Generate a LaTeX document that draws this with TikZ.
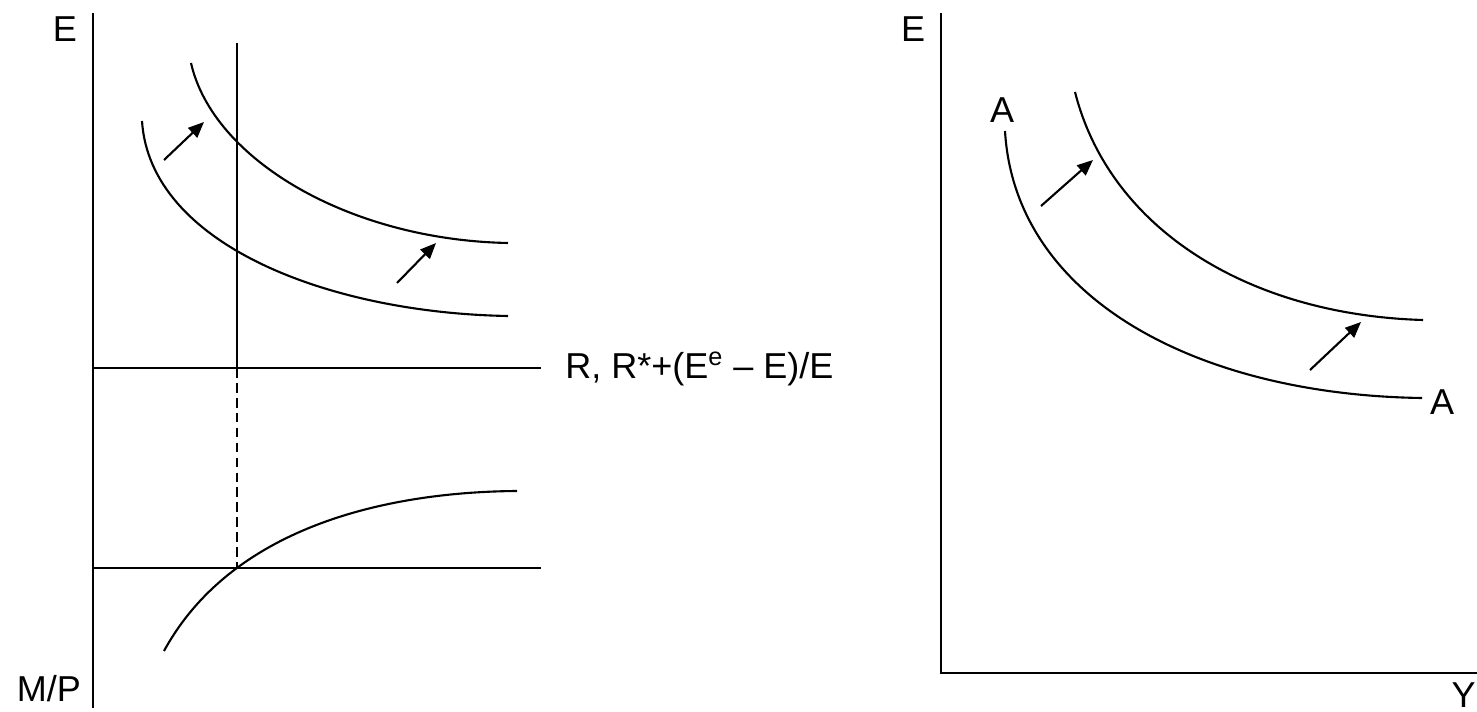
\documentclass[tikz,border=0pt]{standalone}
\usepackage{fontspec}
\setmainfont{Liberation Sans}
\usetikzlibrary{arrows.meta}

\begin{document}
\begin{tikzpicture}[
        x=0.02cm, y=-0.02cm,
        line/.style = {line width=1.2pt},
        shiftarrow/.style = {line width=1.2pt, -{Triangle[length=9pt, width=7.5pt]}},
        lbl/.style = {font=\fontsize{20.5}{24}\selectfont, inner sep=0pt}
    ]
    \useasboundingbox (0,0) rectangle (1477,712);

    % left panel: axis, verticals, horizontals
    \coordinate (lTop) at (93,13);
    \coordinate (lBot) at (93,708);
    \draw[line] (lTop) -- (lBot);
    \node[lbl] (lE) at (65,29) {E};
    \node[lbl] (lMP) at (49,689) {M/P};

    \coordinate (vTop) at (237,43);
    \coordinate (vMid) at (237,368);
    \coordinate (vLow) at (237,568);
    \draw[line] (vTop) -- (vMid);
    \draw[line, dash pattern=on 5.5pt off 3pt] (vMid) -- (vLow);

    \coordinate (hUpL) at (93,368);
    \coordinate (hUpR) at (541,368);
    \coordinate (hLoL) at (93,568);
    \coordinate (hLoR) at (541,568);
    \draw[line] (hUpL) -- (hUpR);
    \draw[line] (hLoL) -- (hLoR);
    \node[lbl, anchor=west] (rate) at (565,369) {R, R*+(E\textsuperscript{e} -- E)/E};

    % left panel: curves
    \draw[line] (191,63) .. controls (213,160) and (350,240) .. (508,243);
    \draw[line] (142,121) .. controls (150,245) and (330,313) .. (508,316);
    \draw[line] (164,651) .. controls (230,530) and (380,492) .. (517,491);

    \coordinate (la1) at (164,160);
    \coordinate (lb1) at (204,122);
    \coordinate (la2) at (397,283);
    \coordinate (lb2) at (436,243);
    \draw[shiftarrow] (la1) -- (lb1);
    \draw[shiftarrow] (la2) -- (lb2);

    % right panel
    \coordinate (rTop) at (941,13);
    \coordinate (rOrig) at (941,673);
    \coordinate (rEnd) at (1477,673);
    \draw[line] (rTop) -- (rOrig) -- (rEnd);
    \node[lbl] (rE) at (913,29) {E};
    \node[lbl, anchor=east] (rY) at (1476,695) {Y};

    \draw[line] (1005,131) .. controls (1015,300) and (1200,395) .. (1422,398);
    \draw[line] (1075,92) .. controls (1110,230) and (1250,315) .. (1423,320);
    \node[lbl] (aTop) at (1002,110) {A};
    \node[lbl] (aEnd) at (1442,402) {A};

    \coordinate (ra1) at (1041,206);
    \coordinate (rb1) at (1093,160);
    \coordinate (ra2) at (1310,370);
    \coordinate (rb2) at (1361,322);
    \draw[shiftarrow] (ra1) -- (rb1);
    \draw[shiftarrow] (ra2) -- (rb2);
\end{tikzpicture}
\end{document}
